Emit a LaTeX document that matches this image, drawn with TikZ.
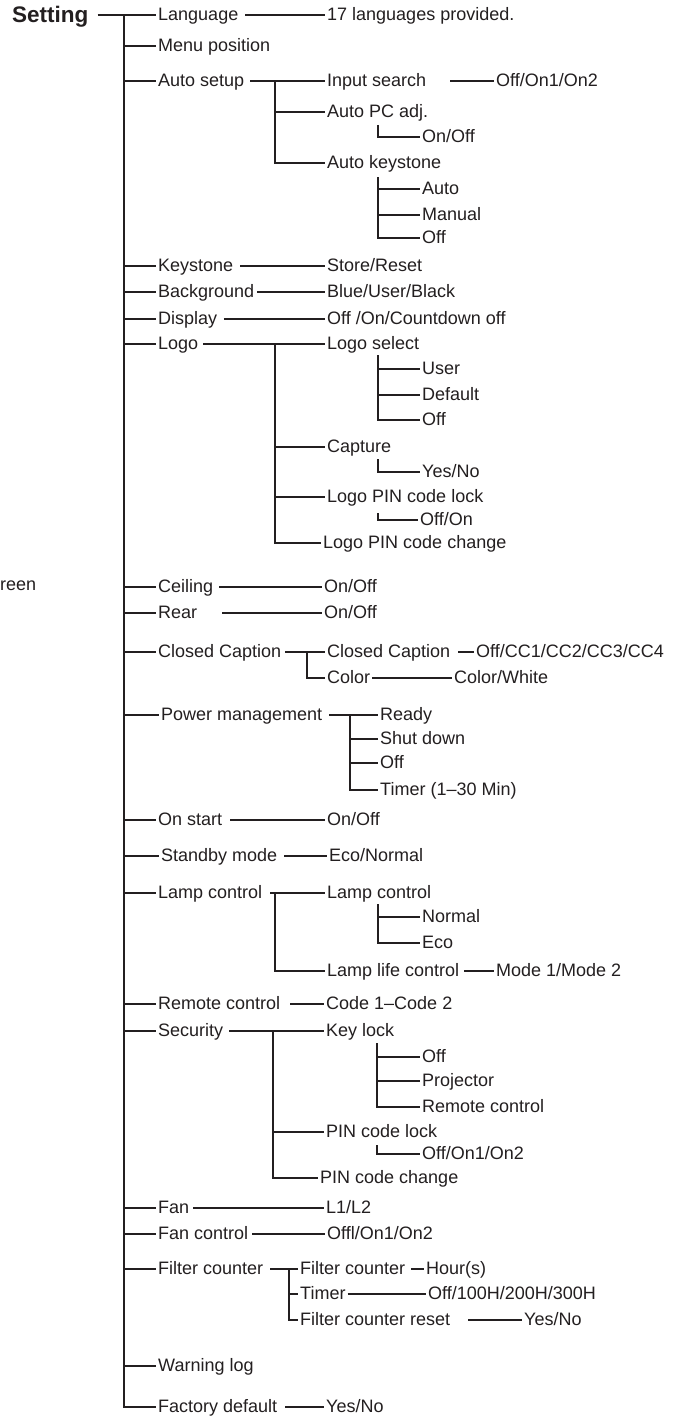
\documentclass[tikz,border=0pt]{standalone}
\usepackage{fontspec}
\setmainfont{Liberation Sans}
\definecolor{ink}{RGB}{35,31,32}
\begin{document}
\begin{tikzpicture}[x=1pt,y=-1pt,
  lbl/.style={anchor=west, inner xsep=2pt, inner ysep=0pt, text height=11pt, text depth=0pt, font=\fontsize{18}{20}\selectfont, text=ink},
  ln/.style={draw=ink, line width=1.2pt}]
\fill[white] (0,0) rectangle (680,1418);
\useasboundingbox (0,0) rectangle (680,1418);

% root
\node[lbl, font=\fontsize{22.5}{24}\selectfont\bfseries, text height=16pt] (setting) at (10,15) {Setting};
\coordinate (trunk) at (124,15);

% level 1
\node[lbl] (lang) at (156,15) {Language};
\node[lbl] (menu) at (156,46) {Menu position};
\node[lbl] (autosetup) at (156,81) {Auto setup};
\node[lbl] (keystone) at (156,266) {Keystone};
\node[lbl] (background) at (156,292) {Background};
\node[lbl] (display) at (156,319) {Display};
\node[lbl] (logo) at (156,344) {Logo};
\node[lbl] (ceiling) at (156,587) {Ceiling};
\node[lbl] (rear) at (156,613) {Rear};
\node[lbl] (cc) at (156,652) {Closed Caption};
\node[lbl] (pm) at (159,715) {Power management};
\node[lbl] (onstart) at (156,820) {On start};
\node[lbl] (standby) at (159,856) {Standby mode};
\node[lbl] (lamp) at (156,893) {Lamp control};
\node[lbl] (remote) at (156,1004) {Remote control};
\node[lbl] (security) at (156,1031) {Security};
\node[lbl] (fan) at (156,1208) {Fan};
\node[lbl] (fanctl) at (156,1234) {Fan control};
\node[lbl] (filter) at (156,1269) {Filter counter};
\node[lbl] (warning) at (156,1366) {Warning log};
\node[lbl] (factory) at (156,1407) {Factory default};

\node[lbl, inner xsep=0pt] (reen) at (0,585) {reen};

\draw[ln] ([xshift=7]setting.east) -- (lang.west);
\draw[ln] (trunk) |- (factory.west);
\foreach \n in {menu,autosetup,keystone,background,display,logo,ceiling,rear,cc,pm,onstart,standby,lamp,remote,security,fan,fanctl,filter,warning}
  \draw[ln] (trunk |- \n.west) -- (\n.west);

% Language
\node[lbl] (langv) at (325,15) {17 languages provided.};
\draw[ln] ([xshift=5]lang.east) -- (langv.west);

% Auto setup
\node[lbl] (inputsearch) at (325,81) {Input search};
\node[lbl] (inputv) at (494,81) {Off/On1/On2};
\draw[ln] ([xshift=4]autosetup.east) -- (inputsearch.west);
\draw[ln] ([xshift=22]inputsearch.east) -- (inputv.west);
\coordinate (asv) at (275,81);
\node[lbl] (autopc) at (325,112) {Auto PC adj.};
\node[lbl] (autokey) at (325,163) {Auto keystone};
\draw[ln] (asv) |- (autokey.west);
\draw[ln] (asv |- autopc.west) -- (autopc.west);
\coordinate (pcv) at (378,125);
\node[lbl] (pconoff) at (420,137) {On/Off};
\draw[ln] (pcv) |- (pconoff.west);
\coordinate (akv) at (378,177);
\node[lbl] (akauto) at (420,189) {Auto};
\node[lbl] (akman) at (420,215) {Manual};
\node[lbl] (akoff) at (420,238) {Off};
\draw[ln] (akv) |- (akoff.west);
\draw[ln] (akv |- akauto.west) -- (akauto.west);
\draw[ln] (akv |- akman.west) -- (akman.west);

% Keystone, Background, Display
\node[lbl] (keystonev) at (325,266) {Store/Reset};
\draw[ln] ([xshift=5]keystone.east) -- (keystonev.west);
\node[lbl] (backgroundv) at (325,292) {Blue/User/Black};
\draw[ln] ([xshift=1]background.east) -- (backgroundv.west);
\node[lbl] (displayv) at (325,319) {Off /On/Countdown off};
\draw[ln] ([xshift=4.5]display.east) -- (displayv.west);

% Logo
\node[lbl] (logosel) at (325,344) {Logo select};
\draw[ln] ([xshift=3]logo.east) -- (logosel.west);
\coordinate (lgv) at (275,344);
\node[lbl] (capture) at (325,447) {Capture};
\node[lbl] (lpinlock) at (325,497) {Logo PIN code lock};
\node[lbl] (lpinchange) at (321,543) {Logo PIN code change};
\draw[ln] (lgv) |- (lpinchange.west);
\draw[ln] (lgv |- capture.west) -- (capture.west);
\draw[ln] (lgv |- lpinlock.west) -- (lpinlock.west);
\coordinate (lsv) at (378,355);
\node[lbl] (lsuser) at (420,369) {User};
\node[lbl] (lsdef) at (420,395) {Default};
\node[lbl] (lsoff) at (420,420) {Off};
\draw[ln] (lsv) |- (lsoff.west);
\draw[ln] (lsv |- lsuser.west) -- (lsuser.west);
\draw[ln] (lsv |- lsdef.west) -- (lsdef.west);
\coordinate (capv) at (378,459);
\node[lbl] (capyn) at (420,472) {Yes/No};
\draw[ln] (capv) |- (capyn.west);
\coordinate (lpv) at (378,513);
\node[lbl] (lpoo) at (418,520) {Off/On};
\draw[ln] (lpv) |- (lpoo.west);

% Ceiling, Rear
\node[lbl] (ceilingv) at (322,587) {On/Off};
\draw[ln] ([xshift=4]ceiling.east) -- (ceilingv.west);
\node[lbl] (rearv) at (322,613) {On/Off};
\draw[ln] ([xshift=23]rear.east) -- (rearv.west);

% Closed Caption
\node[lbl] (ccsub) at (325,652) {Closed Caption};
\draw[ln] ([xshift=2]cc.east) -- (ccsub.west);
\coordinate (ccv) at (307,652);
\node[lbl] (color) at (325,678) {Color};
\draw[ln] (ccv) |- (color.west);
\node[lbl] (ccsubv) at (474,652) {Off/CC1/CC2/CC3/CC4};
\draw[ln] ([xshift=6]ccsub.east) -- (ccsubv.west);
\node[lbl] (colorv) at (452,678) {Color/White};
\draw[ln] (color.east) -- (colorv.west);

% Power management
\node[lbl] (ready) at (378,715) {Ready};
\draw[ln] ([xshift=5]pm.east) -- (ready.west);
\coordinate (pmv) at (350,715);
\node[lbl] (shut) at (378,739) {Shut down};
\node[lbl] (pmoff) at (378,763) {Off};
\node[lbl] (pmtimer) at (378,790) {Timer (1–30 Min)};
\draw[ln] (pmv) |- (pmtimer.west);
\draw[ln] (pmv |- shut.west) -- (shut.west);
\draw[ln] (pmv |- pmoff.west) -- (pmoff.west);

% On start, Standby
\node[lbl] (onstartv) at (325,820) {On/Off};
\draw[ln] ([xshift=6]onstart.east) -- (onstartv.west);
\node[lbl] (standbyv) at (327,856) {Eco/Normal};
\draw[ln] ([xshift=5]standby.east) -- (standbyv.west);

% Lamp control
\node[lbl] (lampsub) at (325,893) {Lamp control};
\draw[ln] ([xshift=6]lamp.east) -- (lampsub.west);
\coordinate (lcv) at (275,893);
\node[lbl] (llc) at (325,971) {Lamp life control};
\draw[ln] (lcv) |- (llc.west);
\coordinate (lnv) at (378,904);
\node[lbl] (lnormal) at (420,917) {Normal};
\node[lbl] (leco) at (420,943) {Eco};
\draw[ln] (lnv) |- (leco.west);
\draw[ln] (lnv |- lnormal.west) -- (lnormal.west);
\node[lbl] (llcv) at (494,971) {Mode 1/Mode 2};
\draw[ln] ([xshift=3]llc.east) -- (llcv.west);

% Remote control
\node[lbl] (remotev) at (324,1004) {Code 1–Code 2};
\draw[ln] ([xshift=8]remote.east) -- (remotev.west);

% Security
\node[lbl] (keylock) at (324,1031) {Key lock};
\draw[ln] ([xshift=4]security.east) -- (keylock.west);
\coordinate (secv) at (273,1031);
\node[lbl] (pinlock) at (324,1132) {PIN code lock};
\node[lbl] (pinchange) at (318,1178) {PIN code change};
\draw[ln] (secv) |- (pinchange.west);
\draw[ln] (secv |- pinlock.west) -- (pinlock.west);
\coordinate (klv) at (377,1043);
\node[lbl] (kloff) at (420,1057) {Off};
\node[lbl] (klproj) at (420,1081) {Projector};
\node[lbl] (klrem) at (420,1107) {Remote control};
\draw[ln] (klv) |- (klrem.west);
\draw[ln] (klv |- kloff.west) -- (kloff.west);
\draw[ln] (klv |- klproj.west) -- (klproj.west);
\coordinate (plv) at (377,1145);
\node[lbl] (plval) at (420,1154) {Off/On1/On2};
\draw[ln] (plv) |- (plval.west);

% Fan, Fan control
\node[lbl] (fanv) at (324,1208) {L1/L2};
\draw[ln] ([xshift=2]fan.east) -- (fanv.west);
\node[lbl] (fanctlv) at (325,1234) {Offl/On1/On2};
\draw[ln] ([xshift=2]fanctl.east) -- (fanctlv.west);

% Filter counter
\node[lbl] (fcsub) at (298,1269) {Filter counter};
\draw[ln] ([xshift=5]filter.east) -- (fcsub.west);
\coordinate (fcv) at (289,1269);
\node[lbl] (fctimer) at (298,1294) {Timer};
\node[lbl] (fcreset) at (298,1320) {Filter counter reset};
\draw[ln] (fcv) |- (fcreset.west);
\draw[ln] (fcv |- fctimer.west) -- (fctimer.west);
\node[lbl] (fcsubv) at (424,1269) {Hour(s)};
\draw[ln] ([xshift=4]fcsub.east) -- (fcsubv.west);
\node[lbl] (fctimerv) at (426,1294) {Off/100H/200H/300H};
\draw[ln] (fctimer.east) -- (fctimerv.west);
\node[lbl] (fcresetv) at (522,1320) {Yes/No};
\draw[ln] ([xshift=16]fcreset.east) -- (fcresetv.west);

% Factory default
\node[lbl] (factoryv) at (324,1407) {Yes/No};
\draw[ln] ([xshift=6]factory.east) -- (factoryv.west);
\end{tikzpicture}
\end{document}
